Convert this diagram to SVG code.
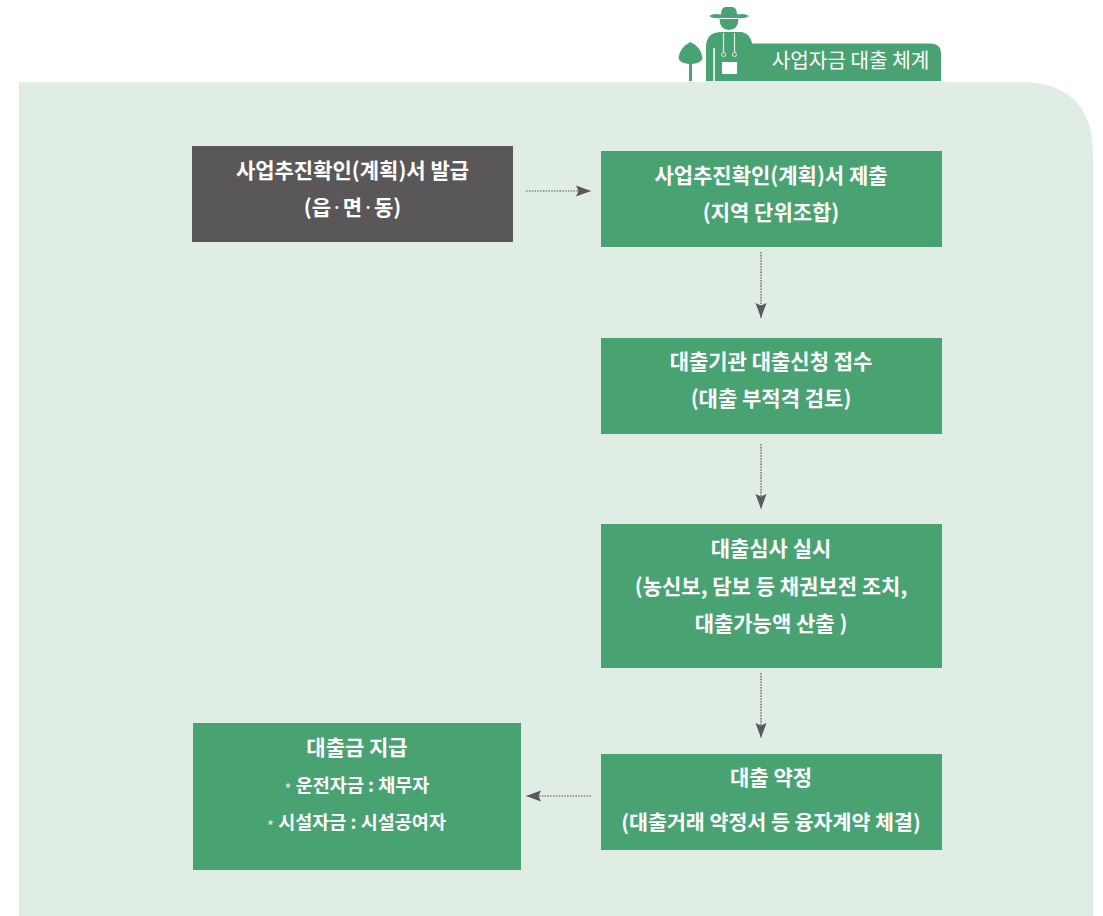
<svg xmlns="http://www.w3.org/2000/svg" width="1103" height="916" viewBox="0 0 1103 916">
<defs>
<marker id="ah" markerUnits="userSpaceOnUse" markerWidth="16" markerHeight="12" refX="15" refY="6" orient="auto"><path d="M0,0.5 L15,6 L0,11.5 L2.5,6 Z" fill="#58595b"/></marker>
</defs>
<style>
text{font-family:"Noto Sans CJK KR","Noto Sans",sans-serif;text-anchor:middle;fill:#fff;font-weight:700;font-size:21px}
.l{font-size:20.6px}
.s{font-size:18.500px}
.a{font-size:15px;font-weight:400;fill:#e0ede4}
.m{font-weight:400}
.g{fill:#49a272}
.d{fill:#595758}
.c{fill:none;stroke:#58595b;stroke-width:1.2;stroke-dasharray:1.6 1.2;marker-end:url(#ah)}
</style>
<path id="background" d="M19,82 H1020 Q1093,82 1093,155 V916 H19 Z" fill="#e0ede4"/>
<g id="header">
<path class="g" d="M750,43.500 H930 Q941,43.500 941,54 V81 H720 V60 Z"/>
<path class="g" d="M706,81 V47 Q706,33 720,32 H742 Q750,34 752,43 L751,81 Z"/>
<rect x="722" y="62" width="15" height="12" fill="#fff"/>
<rect x="713.300" y="48" width="1.500" height="33" fill="#fff"/>
<path d="M723.500,33 V52 M734.500,33 V52" stroke="#e0ede4" stroke-width="1.200" fill="none"/>
<circle cx="723.500" cy="54.500" r="2" class="g" stroke="#e0ede4"/>
<circle cx="734.500" cy="54.500" r="2" class="g" stroke="#e0ede4"/>
<path class="g" d="M721,14.500 Q721,7 726,7 H732 Q737,7 737,14.500 Q745,13 749,16 Q745,19 737,18 L721,18 Q713,19 709,16 Q713,13 721,14.500 Z"/>
<path class="g" d="M719.500,19 H738.500 Q738,30 729,30 Q720,30 719.500,19 Z"/>
<path class="g" d="M690.500,42 Q701,47 702.500,58 Q702,63 692,64 V81 H689 V64 Q679,63 678.500,58 Q680,47 690.500,42 Z"/>
<text x="850.500" y="68" style="font-weight:400;font-size:20.200px">사업자금 대출 체계</text>
</g>
<g id="connectors">
<path class="c" d="M526,191 H591"/>
<path class="c" d="M761,252 V318"/>
<path class="c" d="M761,444 V509"/>
<path class="c" d="M761,673 V738"/>
<path class="c" d="M591,796 H526"/>
</g>
<g id="node1"><rect x="192" y="146" width="321" height="96" class="d"/><text x="352.500" y="178">사업추진확인(계획)서 발급</text><text x="352.500" y="215"><tspan>(읍</tspan><tspan class="m">·</tspan><tspan>면</tspan><tspan class="m">·</tspan><tspan>동)</tspan></text></g>
<g id="node2"><rect x="601" y="151" width="341" height="96" class="g"/><text x="771" y="183">사업추진확인(계획)서 제출</text><text x="771" y="220">(지역 단위조합)</text></g>
<g id="node3"><rect x="601" y="338" width="341" height="96" class="g"/><text x="771" y="369">대출기관 대출신청 접수</text><text x="771" y="406">(대출 부적격 검토)</text></g>
<g id="node4"><rect x="601" y="524" width="341" height="144" class="g"/><text x="771" y="556">대출심사 실시</text><text x="771" y="594">(농신보, 담보 등 채권보전 조치,</text><text x="771" y="631">대출가능액 산출 )</text></g>
<g id="node5"><rect x="601" y="754" width="341" height="96" class="g"/><text x="771" y="785">대출 약정</text><text class="l" x="771" y="830">(대출거래 약정서 등 융자계약 체결)</text></g>
<g id="node6"><rect x="193" y="723" width="328" height="147" class="g"/><text x="357" y="755">대출금 지급</text><text class="s" x="357" y="792"><tspan class="a" dy="3">*</tspan><tspan dy="-3"> 운전자금 : 채무자</tspan></text><text class="s" x="356.500" y="829"><tspan class="a" dy="3">*</tspan><tspan dy="-3"> 시설자금 : 시설공여자</tspan></text></g>
</svg>
